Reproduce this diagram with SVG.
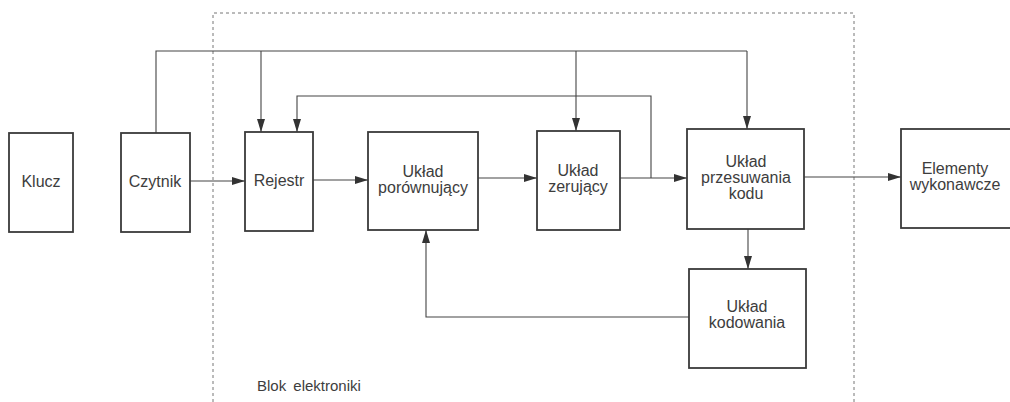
<svg xmlns="http://www.w3.org/2000/svg" width="1010" height="402" viewBox="0 0 1010 402">
<style>
.box{fill:#fff;stroke:#3a3a3a;stroke-width:1.8}
.lbl{font-family:"Liberation Sans",Arial,sans-serif;font-size:16px;fill:#3d3d3d;text-anchor:middle}
.con{fill:none;stroke:#444;stroke-width:1.1}
.arr{marker-end:url(#ah)}
.bound{fill:none;stroke:#777;stroke-width:1;stroke-dasharray:3 3}
</style>
<defs>
<marker id="ah" viewBox="0 0 13 8" refX="13" refY="4" markerWidth="13" markerHeight="8" markerUnits="userSpaceOnUse" orient="auto">
<path d="M0,0 L13,4 L0,8 Z" fill="#333"/>
</marker>
</defs>
<rect width="1010" height="402" fill="#fff"/>
<g id="blok-elektroniki">
<path class="bound" d="M213,402 V13 H854 V402"/>
<text class="lbl" x="257" y="391" style="text-anchor:start;font-size:15px" word-spacing="3">Blok elektroniki</text>
</g>
<g id="connectors">
<path class="con" d="M156,133 V51 H747"/>
<path class="con arr" d="M261,51 V132"/>
<path class="con arr" d="M576,51 V131"/>
<path class="con arr" d="M747,51 V129"/>
<path class="con arr" d="M651,178 V96 H297 V132"/>
<path class="con arr" d="M190,181 H245"/>
<path class="con arr" d="M313,180 H368"/>
<path class="con arr" d="M478,178 H537"/>
<path class="con arr" d="M620,178 H687"/>
<path class="con arr" d="M804,177 H901"/>
<path class="con arr" d="M748,229 V269"/>
<path class="con arr" d="M689,317 H426 V230"/>
</g>
<g id="klucz">
<rect class="box" x="9" y="133" width="64" height="99"/>
<text class="lbl" x="41" y="187">Klucz</text>
</g>
<g id="czytnik">
<rect class="box" x="121" y="133" width="69" height="99"/>
<text class="lbl" x="155" y="187">Czytnik</text>
</g>
<g id="rejestr">
<rect class="box" x="245" y="132" width="68" height="99"/>
<text class="lbl" x="279" y="186">Rejestr</text>
</g>
<g id="uklad-porownujacy">
<rect class="box" x="368" y="132" width="110" height="98"/>
<text class="lbl" x="423" y="177">Układ</text>
<text class="lbl" x="423" y="193">porównujący</text>
</g>
<g id="uklad-zerujacy">
<rect class="box" x="537" y="131" width="83" height="99"/>
<text class="lbl" x="578" y="176">Układ</text>
<text class="lbl" x="578" y="192">zerujący</text>
</g>
<g id="uklad-przesuwania-kodu">
<rect class="box" x="687" y="129" width="117" height="100"/>
<text class="lbl" x="746" y="167">Układ</text>
<text class="lbl" x="746" y="183">przesuwania</text>
<text class="lbl" x="746" y="199">kodu</text>
</g>
<g id="uklad-kodowania">
<rect class="box" x="689" y="269" width="117" height="99"/>
<text class="lbl" x="747" y="312">Układ</text>
<text class="lbl" x="747" y="328">kodowania</text>
</g>
<g id="elementy-wykonawcze">
<rect class="box" x="901" y="129" width="130" height="99"/>
<text class="lbl" x="955" y="174">Elementy</text>
<text class="lbl" x="955" y="190">wykonawcze</text>
</g>
</svg>
